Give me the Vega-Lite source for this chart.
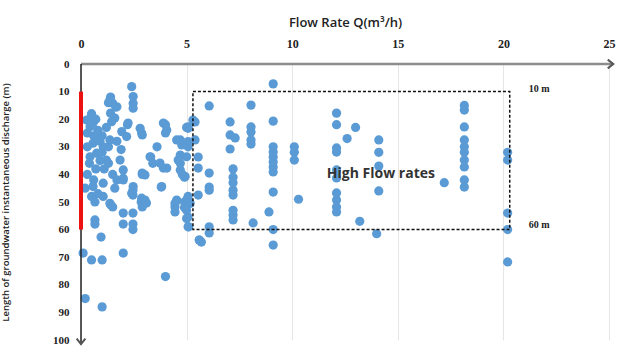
{
  "$schema": "https://vega.github.io/schema/vega-lite/v6.json",
  "width": 528,
  "height": 276,
  "padding": {"left": 81, "top": 64, "right": 20, "bottom": 16},
  "autosize": {"type": "none"},
  "background": "white",
  "config": {"view": {"stroke": null}},
  "datasets": {
    "pts": [
      {"q": 0.5, "l": 18.5}, {"q": 0.27, "l": 20.3}, {"q": 0.43, "l": 22.7}, {"q": 0.57, "l": 21.4},
      {"q": 1.45, "l": 20.9}, {"q": 1.5, "l": 14.2}, {"q": 1.7, "l": 15.5}, {"q": 1.37, "l": 13},
      {"q": 2.4, "l": 8.2}, {"q": 2.47, "l": 11.8}, {"q": 2.47, "l": 14.2}, {"q": 2.47, "l": 16},
      {"q": 2.23, "l": 21.4}, {"q": 2.8, "l": 23.3}, {"q": 2.87, "l": 25}, {"q": 1.93, "l": 24.5},
      {"q": 2.16, "l": 26.3}, {"q": 1.37, "l": 27.5}, {"q": 1.05, "l": 30}, {"q": 0.57, "l": 28.7},
      {"q": 0.43, "l": 33.6}, {"q": 0.74, "l": 32.3}, {"q": 1.2, "l": 34.8}, {"q": 1.85, "l": 34.8},
      {"q": 2.0, "l": 38.4}, {"q": 1.7, "l": 42}, {"q": 1.05, "l": 43.2}, {"q": 0.57, "l": 44.4},
      {"q": 0.5, "l": 48}, {"q": 1.05, "l": 48}, {"q": 1.37, "l": 50.5}, {"q": 2.0, "l": 41.4},
      {"q": 2.47, "l": 44.4}, {"q": 2.4, "l": 46.8}, {"q": 3.03, "l": 40.2}, {"q": 2.87, "l": 48.6},
      {"q": 3.1, "l": 50.4}, {"q": 3.9, "l": 21.4}, {"q": 4.06, "l": 23.9}, {"q": 4.53, "l": 27.5},
      {"q": 4.77, "l": 29.3}, {"q": 3.6, "l": 30}, {"q": 3.27, "l": 33.6}, {"q": 3.74, "l": 35.9},
      {"q": 4.06, "l": 37.7}, {"q": 4.6, "l": 34.8}, {"q": 4.7, "l": 38.4}, {"q": 4.93, "l": 40.8},
      {"q": 5.07, "l": 23.3}, {"q": 5.3, "l": 20.3}, {"q": 5.07, "l": 28.1}, {"q": 5.0, "l": 33.6},
      {"q": 3.82, "l": 44.4}, {"q": 3.03, "l": 49.3}, {"q": 4.53, "l": 49.3}, {"q": 5.07, "l": 48},
      {"q": 4.45, "l": 50.5}, {"q": 5.17, "l": 50.5},
      {"q": 0.3, "l": 25}, {"q": 0.3, "l": 30}, {"q": 0.6, "l": 26}, {"q": 0.8, "l": 24},
      {"q": 0.9, "l": 28}, {"q": 0.4, "l": 36}, {"q": 0.7, "l": 38}, {"q": 0.3, "l": 40},
      {"q": 0.9, "l": 35}, {"q": 0.6, "l": 42}, {"q": 1.1, "l": 38}, {"q": 1.3, "l": 36},
      {"q": 1.0, "l": 32}, {"q": 1.2, "l": 23}, {"q": 1.0, "l": 26}, {"q": 0.2, "l": 45},
      {"q": 0.8, "l": 47}, {"q": 1.5, "l": 40}, {"q": 1.6, "l": 45}, {"q": 1.3, "l": 30},
      {"q": 1.7, "l": 28}, {"q": 1.9, "l": 31}, {"q": 0.5, "l": 18}, {"q": 0.7, "l": 20},
      {"q": 1.4, "l": 12}, {"q": 1.3, "l": 14}, {"q": 1.65, "l": 15.6}, {"q": 1.4, "l": 17.8},
      {"q": 1.6, "l": 19.6}, {"q": 2.2, "l": 22}, {"q": 2.9, "l": 25.7}, {"q": 4.0, "l": 22},
      {"q": 4.0, "l": 25}, {"q": 5.0, "l": 23}, {"q": 4.7, "l": 27.5}, {"q": 5.07, "l": 30},
      {"q": 3.3, "l": 33.7}, {"q": 4.7, "l": 33}, {"q": 2.9, "l": 39.5}, {"q": 3.8, "l": 44.6},
      {"q": 2.9, "l": 49.3}, {"q": 2.9, "l": 51.8}, {"q": 4.45, "l": 51.8}, {"q": 4.45, "l": 53.6},
      {"q": 4.9, "l": 50}, {"q": 5.0, "l": 53}, {"q": 5.0, "l": 56}, {"q": 5.1, "l": 59},
      {"q": 5.6, "l": 63.8}, {"q": 3.4, "l": 36}, {"q": 3.9, "l": 37.7}, {"q": 4.7, "l": 36},
      {"q": 4.8, "l": 40}, {"q": 2.9, "l": 40}, {"q": 2.0, "l": 42}, {"q": 2.46, "l": 45.7},
      {"q": 2.46, "l": 47.5}, {"q": 2.85, "l": 50}, {"q": 0.66, "l": 50}, {"q": 1.4, "l": 51},
      {"q": 2.0, "l": 54}, {"q": 2.46, "l": 54}, {"q": 0.66, "l": 56.5}, {"q": 0.66, "l": 58},
      {"q": 2.0, "l": 58}, {"q": 2.46, "l": 58}, {"q": 2.46, "l": 60}, {"q": 0.95, "l": 62.7},
      {"q": 1.5, "l": 51.8}, {"q": 3.03, "l": 50.4},
      {"q": 0.1, "l": 68.5}, {"q": 0.5, "l": 71}, {"q": 1.0, "l": 71}, {"q": 2.0, "l": 68.5},
      {"q": 4.0, "l": 77}, {"q": 0.2, "l": 85}, {"q": 1.0, "l": 88},
      {"q": 5.4, "l": 21}, {"q": 5.07, "l": 22.8}, {"q": 5.4, "l": 27.5}, {"q": 5.55, "l": 33.7},
      {"q": 5.55, "l": 37.7}, {"q": 4.9, "l": 41}, {"q": 5.55, "l": 47.5}, {"q": 5.0, "l": 49.3},
      {"q": 4.9, "l": 52}, {"q": 5.07, "l": 55.4}, {"q": 5.07, "l": 59}, {"q": 5.6, "l": 63.8},
      {"q": 6.07, "l": 15.2}, {"q": 8.05, "l": 14.9}, {"q": 9.1, "l": 7.2}, {"q": 7.06, "l": 21},
      {"q": 7.06, "l": 25.7}, {"q": 7.3, "l": 26.8}, {"q": 7.06, "l": 30.8},
      {"q": 8.05, "l": 22.8}, {"q": 8.05, "l": 24.6}, {"q": 8.05, "l": 27.5}, {"q": 8.05, "l": 29},
      {"q": 9.1, "l": 20.7}, {"q": 9.1, "l": 30}, {"q": 9.1, "l": 31.9}, {"q": 9.1, "l": 33.7},
      {"q": 9.1, "l": 35.5}, {"q": 9.1, "l": 37.3}, {"q": 9.1, "l": 39.1}, {"q": 9.1, "l": 46.4},
      {"q": 8.9, "l": 53.6}, {"q": 9.1, "l": 60}, {"q": 9.1, "l": 65.6},
      {"q": 10.1, "l": 30}, {"q": 10.1, "l": 32}, {"q": 10.1, "l": 34.8}, {"q": 10.3, "l": 49},
      {"q": 7.2, "l": 38}, {"q": 7.2, "l": 41}, {"q": 7.2, "l": 43}, {"q": 7.2, "l": 45.7},
      {"q": 7.2, "l": 47.5}, {"q": 7.2, "l": 53}, {"q": 7.2, "l": 54.7}, {"q": 7.2, "l": 56.5},
      {"q": 8.15, "l": 57.6}, {"q": 6.07, "l": 39.5}, {"q": 6.07, "l": 44.6}, {"q": 6.07, "l": 45.7},
      {"q": 6.07, "l": 59}, {"q": 6.07, "l": 61.2}, {"q": 5.7, "l": 64.5},
      {"q": 12.1, "l": 17.8}, {"q": 12.1, "l": 22}, {"q": 12.1, "l": 30.4}, {"q": 12.1, "l": 31.9},
      {"q": 12.1, "l": 38.4}, {"q": 12.1, "l": 41.3}, {"q": 12.1, "l": 46.7}, {"q": 12.1, "l": 49.3},
      {"q": 12.1, "l": 51.8}, {"q": 12.1, "l": 53.6}, {"q": 12.6, "l": 27}, {"q": 13.0, "l": 23},
      {"q": 13.2, "l": 57}, {"q": 14.0, "l": 61.5}, {"q": 14.1, "l": 27.5}, {"q": 14.1, "l": 32},
      {"q": 14.1, "l": 37}, {"q": 14.1, "l": 46}, {"q": 17.2, "l": 43},
      {"q": 18.15, "l": 15}, {"q": 18.15, "l": 16.7}, {"q": 18.15, "l": 22.8}, {"q": 18.15, "l": 27.5},
      {"q": 18.15, "l": 30}, {"q": 18.15, "l": 32}, {"q": 18.15, "l": 34.8}, {"q": 18.15, "l": 37.3},
      {"q": 18.15, "l": 42}, {"q": 18.15, "l": 44.6},
      {"q": 20.2, "l": 32}, {"q": 20.2, "l": 34.8}, {"q": 20.2, "l": 54}, {"q": 20.2, "l": 60},
      {"q": 20.2, "l": 71.7}
    ],
    "zone": [{"q": 5.3, "q2": 20.3, "l": 10, "l2": 60}],
    "red": [{"q": 0, "l": 10, "l2": 60}],
    "depthlabels": [{"q": 21.2, "l": 9, "t": "10 m"}, {"q": 21.2, "l": 58.5, "t": "60 m"}],
    "zonelabel": [{"q": 14.2, "l": 40, "t": "High Flow rates"}],
    "xaxisline": [{"q": 0, "q2": 25.2, "l": 0}],
    "yaxisline": [{"q": 0, "l": 0, "l2": 101.5}],
    "arrows": [{"q": 25.2, "l": 0, "a": 0}, {"q": 0, "l": 101.5, "a": 90}]
  },
  "encoding": {
    "x": {
      "field": "q", "type": "quantitative",
      "scale": {"domain": [0, 25], "nice": false, "zero": true},
      "axis": {
        "orient": "top", "values": [0, 5, 10, 15, 20, 25],
        "title": "Flow Rate Q(m³/h)", "titleFont": "Open Sans", "titleFontSize": 13,
        "titleFontWeight": 600, "titleColor": "#222", "titlePadding": 8,
        "labelFont": "Liberation Serif", "labelFontWeight": "bold", "labelFontSize": 12,
        "labelColor": "#222", "labelPadding": 14, "labelFlush": false, "labelOverlap": false,
        "ticks": false, "domain": false,
        "grid": true, "gridColor": "#e6e6e6", "gridWidth": 1
      }
    },
    "y": {
      "field": "l", "type": "quantitative",
      "scale": {"domain": [0, 100], "nice": false, "reverse": true},
      "axis": {
        "orient": "left", "values": [0, 10, 20, 30, 40, 50, 60, 70, 80, 90, 100],
        "title": "Length of groundwater instantaneous discharge (m)", "titleFont": "Open Sans",
        "titleFontSize": 9.5, "titleFontWeight": 600, "titleColor": "#222", "titlePadding": 42,
        "labelFont": "Liberation Serif", "labelFontWeight": "bold", "labelFontSize": 11,
        "labelColor": "#222", "labelPadding": 12, "labelFlush": false, "labelOverlap": false,
        "labelSeparation": 0, "labelBound": false,
        "ticks": false, "domain": false, "grid": false
      }
    }
  },
  "layer": [
    {
      "data": {"name": "pts"},
      "mark": {"type": "point", "filled": true, "size": 85, "color": "#5b9bd5", "opacity": 1}
    },
    {
      "data": {"name": "xaxisline"},
      "mark": {"type": "rule", "color": "#8c8c8c", "strokeWidth": 2.5},
      "encoding": {"x2": {"field": "q2"}}
    },
    {
      "data": {"name": "yaxisline"},
      "mark": {"type": "rule", "color": "#222", "strokeWidth": 1.5},
      "encoding": {"y2": {"field": "l2"}}
    },
    {
      "data": {"name": "arrows"},
      "mark": {"type": "point", "shape": "M-1,-0.8L0,0L-1,0.8", "filled": false, "size": 120, "strokeWidth": 2, "color": "#555", "opacity": 1},
      "encoding": {"angle": {"field": "a", "type": "quantitative", "scale": null}}
    },
    {
      "data": {"name": "red"},
      "mark": {"type": "rule", "color": "#ee1111", "strokeWidth": 4},
      "encoding": {"y2": {"field": "l2"}}
    },
    {
      "data": {"name": "zone"},
      "mark": {"type": "rect", "fill": null, "fillOpacity": 0, "stroke": "#111", "strokeWidth": 1.5, "strokeDash": [3, 2]},
      "encoding": {"x2": {"field": "q2"}, "y2": {"field": "l2"}}
    },
    {
      "data": {"name": "depthlabels"},
      "mark": {"type": "text", "font": "Liberation Serif", "fontWeight": "bold", "fontSize": 10, "align": "left", "color": "#222"},
      "encoding": {"text": {"field": "t"}}
    },
    {
      "data": {"name": "zonelabel"},
      "mark": {"type": "text", "font": "Open Sans", "fontWeight": "bold", "fontSize": 14, "align": "center", "color": "#333"},
      "encoding": {"text": {"field": "t"}}
    }
  ]
}
